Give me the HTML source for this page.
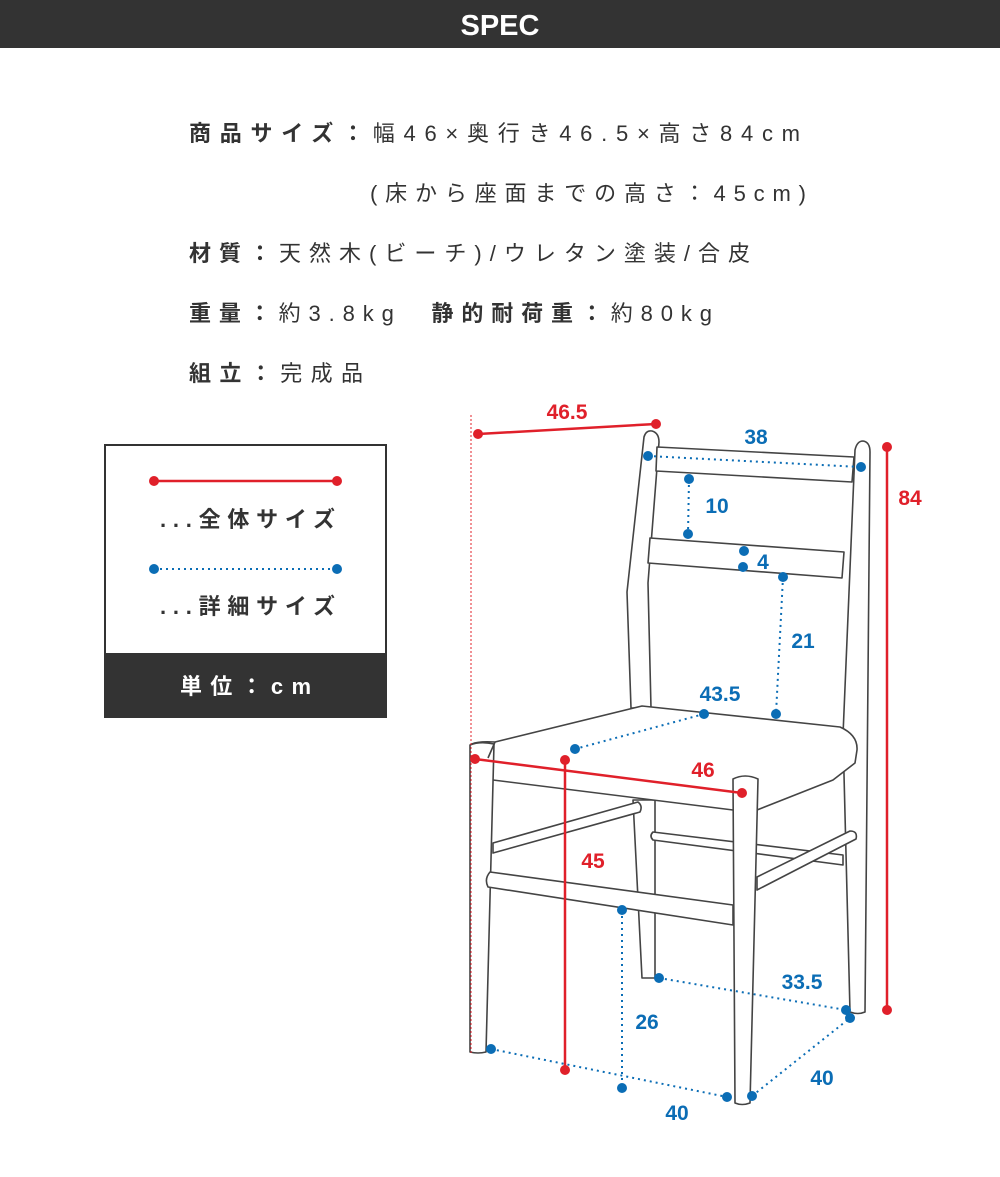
<!DOCTYPE html>
<html><head><meta charset="utf-8"><style>
html,body{margin:0;padding:0;background:#fff;}
svg{display:block;}
text{font-family:"Liberation Sans","Noto Sans CJK JP",sans-serif;}
</style></head><body>
<svg width="1000" height="1177" viewBox="0 0 1000 1177" xmlns="http://www.w3.org/2000/svg">
<rect x="0" y="0" width="1000" height="48" fill="#333"/>
<text x="500" y="35" text-anchor="middle" fill="#fff" font-size="29" font-weight="bold">SPEC</text>

<g fill="#333" font-size="22" font-family="'Noto Sans CJK JP',sans-serif">
<text x="189" y="141" textLength="611" lengthAdjust="spacing"><tspan font-weight="bold">商品サイズ：</tspan>幅46×奥行き46.5×高さ84cm</text>
<text x="370" y="201" textLength="436" lengthAdjust="spacing">(床から座面までの高さ：45cm)</text>
<text x="189" y="261" textLength="561" lengthAdjust="spacing"><tspan font-weight="bold">材質：</tspan>天然木(ビーチ)/ウレタン塗装/合皮</text>
<text x="189" y="321" textLength="523" lengthAdjust="spacing"><tspan font-weight="bold">重量：</tspan>約3.8kg　<tspan font-weight="bold">静的耐荷重：</tspan>約80kg</text>
<text x="189" y="381" textLength="174" lengthAdjust="spacing"><tspan font-weight="bold">組立：</tspan>完成品</text>
</g>

<!-- legend -->
<rect x="105" y="445" width="281" height="272" fill="#fff" stroke="#333" stroke-width="2"/>
<line x1="154" y1="481" x2="337" y2="481" stroke="#e0202a" stroke-width="2.5"/>
<circle cx="154" cy="481" r="5" fill="#e0202a"/><circle cx="337" cy="481" r="5" fill="#e0202a"/>
<text x="160" y="527" fill="#333" font-size="22" font-weight="bold" font-family="'Noto Sans CJK JP',sans-serif" textLength="175" lengthAdjust="spacing">...全体サイズ</text>
<line x1="154" y1="569" x2="337" y2="569" stroke="#0b6db5" stroke-width="2" stroke-dasharray="2 4"/>
<circle cx="154" cy="569" r="5" fill="#0b6db5"/><circle cx="337" cy="569" r="5" fill="#0b6db5"/>
<text x="160" y="614" fill="#333" font-size="22" font-weight="bold" font-family="'Noto Sans CJK JP',sans-serif" textLength="175" lengthAdjust="spacing">...詳細サイズ</text>
<rect x="105" y="653" width="281" height="64" fill="#333"/>
<text x="180" y="694" fill="#fff" font-size="22" font-weight="bold" font-family="'Noto Sans CJK JP',sans-serif" textLength="131" lengthAdjust="spacing">単位：cm</text>

<!-- chair -->
<g fill="#fff" stroke="#444" stroke-width="1.6" stroke-linejoin="round">
<!-- back right post/leg -->
<path d="M855,450 Q857,441 863,441 Q870,442 870,452 L865,1012 Q858,1015 850,1012 L843,735 Z"/>
<!-- back left post -->
<path d="M644,437 Q646,430 652,431 Q659,433 659,442 L648,583 L651,708 L631,708 L627,592 Z"/>
<!-- top rail -->
<path d="M657,447 L854,457 L852,482 L656,471 Z"/>
<!-- middle rail -->
<path d="M650,538 L844,552 L842,578 L648,563 Z"/>
<!-- back left leg -->
<path d="M633,800 L655,800 L655,978 L642,978 Z"/>
<!-- right back stretcher -->
<path d="M653,832 L843,855 L843,865 L653,840 Q649,836 653,832 Z"/>
<!-- right side stretcher -->
<path d="M757,877 L850,831 Q858,831 856,839 L757,890 Z"/>
<!-- left side stretcher -->
<path d="M493,843 L638,802 Q643,806 640,812 L493,853 Z"/>
<!-- seat -->
<path d="M472,744 Q478,741 495,742 L642,706 L840,727 Q858,735 857,750 L855,763 L833,780 L757,810 L733,810 L493,780 L488,775 Q486,760 490,750 Z"/>
<!-- front left leg -->
<path d="M470,745 Q480,741 494,744 L486,1052 Q478,1054 470,1052 Z"/>
<!-- front stretcher -->
<path d="M490,872 L733,905 L733,925 L488,887 Q484,879 490,872 Z"/>
<!-- front right leg -->
<path d="M733,779 Q745,773 758,779 L750,1103 Q742,1106 735,1103 Z"/>
</g>
<line x1="495" y1="742" x2="488" y2="758" stroke="#444" stroke-width="1.6"/>

<!-- red dims -->
<g stroke="#e0202a" stroke-width="2.5" fill="#e0202a">
<line x1="471" y1="415" x2="471" y2="1055" stroke-width="1" stroke-dasharray="2 2"/>
<line x1="478" y1="434" x2="656" y2="424"/>
<line x1="475" y1="759" x2="742" y2="793"/>
<line x1="565" y1="760" x2="565" y2="1070"/>
<line x1="887" y1="447" x2="887" y2="1010"/>
</g>
<g fill="#e0202a">
<circle cx="478" cy="434" r="5"/><circle cx="656" cy="424" r="5"/>
<circle cx="475" cy="759" r="5"/><circle cx="742" cy="793" r="5"/>
<circle cx="565" cy="760" r="5"/><circle cx="565" cy="1070" r="5"/>
<circle cx="887" cy="447" r="5"/><circle cx="887" cy="1010" r="5"/>
</g>
<g fill="#e0202a" font-size="21" font-weight="bold">
<text x="567" y="419" text-anchor="middle">46.5</text>
<text x="703" y="777" text-anchor="middle">46</text>
<text x="593" y="868" text-anchor="middle">45</text>
<text x="910" y="505" text-anchor="middle">84</text>
</g>

<!-- blue dims -->
<g stroke="#0b6db5" stroke-width="2" stroke-dasharray="2 4" fill="none">
<line x1="648" y1="456" x2="861" y2="467"/>
<line x1="689" y1="479" x2="688" y2="534"/>
<line x1="783" y1="577" x2="776" y2="714"/>
<line x1="704" y1="714" x2="575" y2="749"/>
<line x1="622" y1="910" x2="622" y2="1088"/>
<line x1="491" y1="1049" x2="727" y2="1097"/>
<line x1="752" y1="1096" x2="850" y2="1018"/>
<line x1="659" y1="978" x2="846" y2="1010"/>
</g>
<g fill="#0b6db5">
<circle cx="648" cy="456" r="5"/><circle cx="861" cy="467" r="5"/>
<circle cx="689" cy="479" r="5"/><circle cx="688" cy="534" r="5"/>
<circle cx="744" cy="551" r="5"/><circle cx="743" cy="567" r="5"/>
<circle cx="783" cy="577" r="5"/><circle cx="776" cy="714" r="5"/>
<circle cx="704" cy="714" r="5"/><circle cx="575" cy="749" r="5"/>
<circle cx="622" cy="910" r="5"/><circle cx="622" cy="1088" r="5"/>
<circle cx="491" cy="1049" r="5"/><circle cx="727" cy="1097" r="5"/>
<circle cx="752" cy="1096" r="5"/><circle cx="850" cy="1018" r="5"/>
<circle cx="659" cy="978" r="5"/><circle cx="846" cy="1010" r="5"/>
</g>
<g fill="#0b6db5" font-size="21" font-weight="bold">
<text x="756" y="444" text-anchor="middle">38</text>
<text x="717" y="513" text-anchor="middle">10</text>
<text x="763" y="569" text-anchor="middle">4</text>
<text x="803" y="648" text-anchor="middle">21</text>
<text x="720" y="701" text-anchor="middle">43.5</text>
<text x="647" y="1029" text-anchor="middle">26</text>
<text x="677" y="1120" text-anchor="middle">40</text>
<text x="822" y="1085" text-anchor="middle">40</text>
<text x="802" y="989" text-anchor="middle">33.5</text>
</g>
</svg>
</body></html>
